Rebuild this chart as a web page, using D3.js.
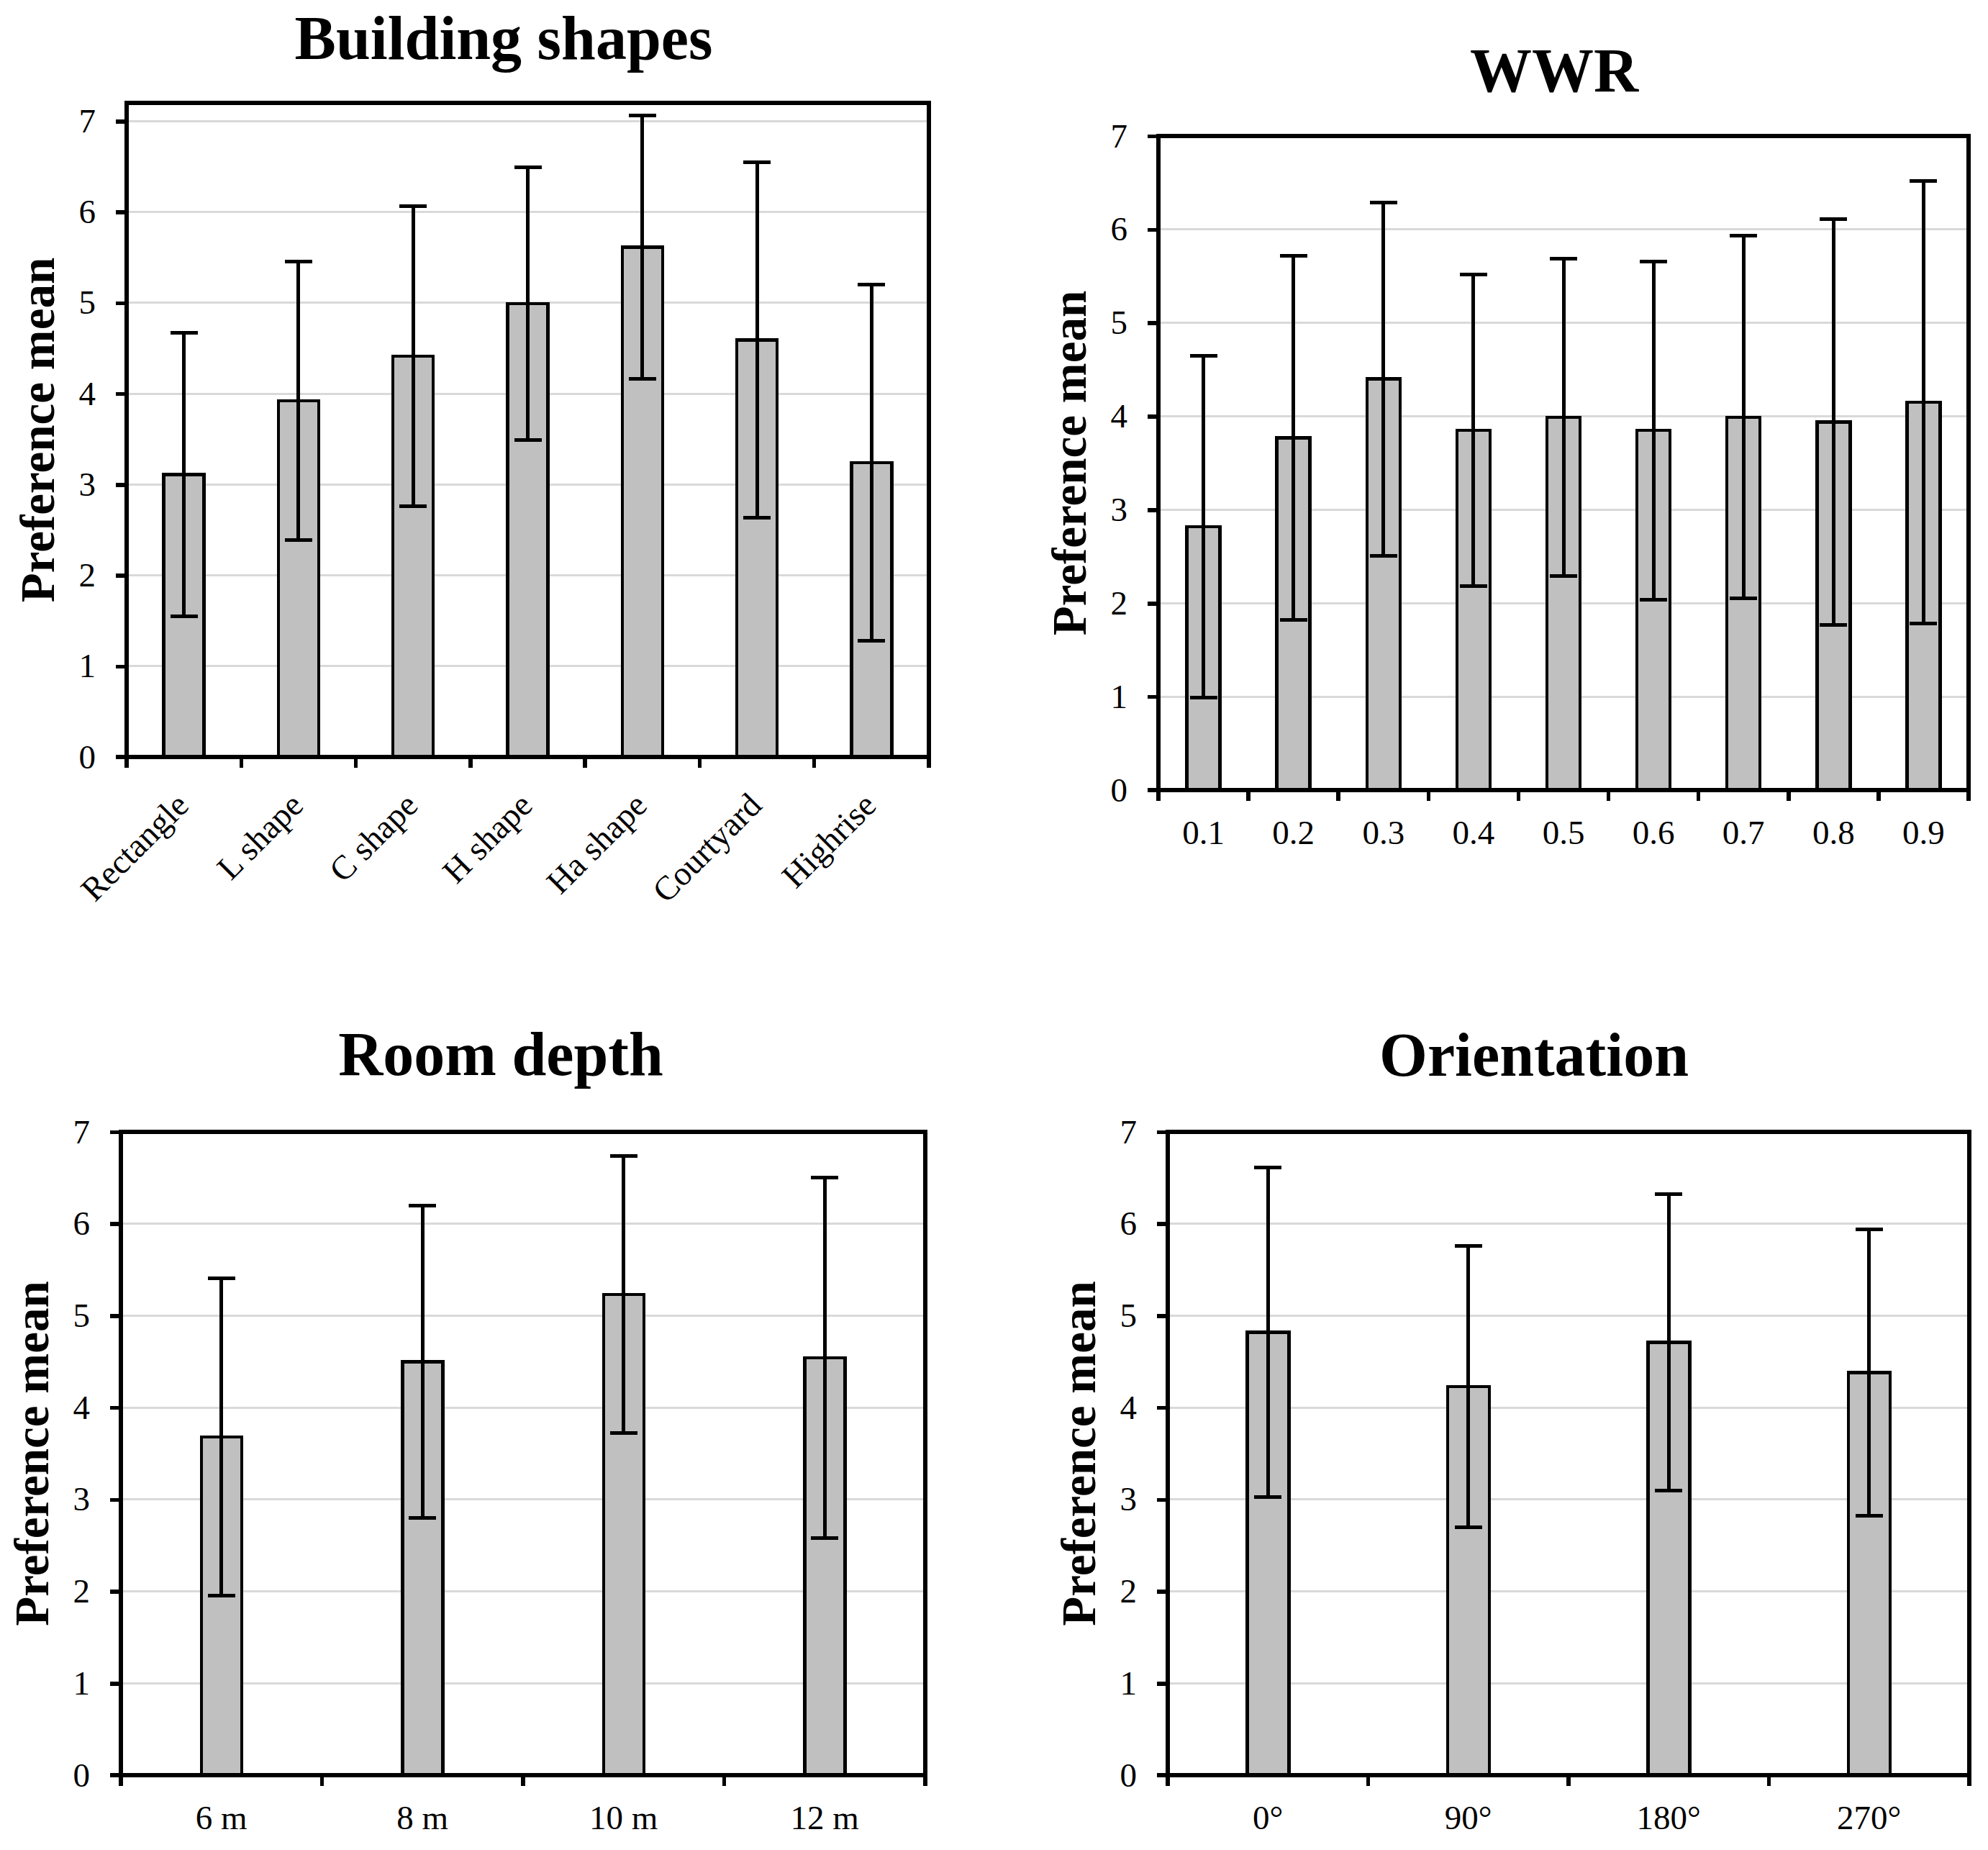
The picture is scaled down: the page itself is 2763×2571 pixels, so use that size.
<!DOCTYPE html>
<html>
<head>
<meta charset="utf-8">
<script src="https://cdn.jsdelivr.net/npm/d3@7"></script>
<style>
  html, body { margin: 0; padding: 0; background: #ffffff; }
  svg { display: block; }
  text { font-family: "Liberation Serif", "Times New Roman", Times, serif; fill: #000; }
</style>
</head>
<body>
<svg id="chart" width="2763" height="2571"></svg>
<script>
// ---------------- DATA ----------------
const yTicks = [0, 1, 2, 3, 4, 5, 6, 7];
const yTitle = "Preference mean";

const shapeTitle = "Building shapes";
const shapeCats = ["Rectangle", "L shape", "C shape", "H shape", "Ha shape", "Courtyard", "Highrise"];
const shapeMean = [3.11, 3.92, 4.41, 4.99, 5.61, 4.59, 3.24];
const shapeSD   = [1.56, 1.53, 1.65, 1.50, 1.45, 1.96, 1.96];

const wwrTitle = "WWR";
const wwrCats = ["0.1", "0.2", "0.3", "0.4", "0.5", "0.6", "0.7", "0.8", "0.9"];
const wwrMean = [2.82, 3.77, 4.40, 3.85, 3.99, 3.85, 3.99, 3.94, 4.15];
const wwrSD   = [1.83, 1.95, 1.89, 1.67, 1.70, 1.81, 1.94, 2.17, 2.37];

const depthTitle = "Room depth";
const depthCats = ["6 m", "8 m", "10 m", "12 m"];
const depthMean = [3.68, 4.50, 5.23, 4.54];
const depthSD   = [1.73, 1.70, 1.51, 1.96];

const orientTitle = "Orientation";
const orientCats = ["0°", "90°", "180°", "270°"];
const orientMean = [4.82, 4.23, 4.71, 4.38];
const orientSD   = [1.79, 1.53, 1.61, 1.56];

// ---------------- LAYOUT ----------------
const panels = [
  { title: shapeTitle, cats: shapeCats, mean: shapeMean, sd: shapeSD, yMax: 7.2,
    left: 176, right: 1291, top: 143, bottom: 1052, barW: 56, titleX: 700, titleY: 82, rotate: true },
  { title: wwrTitle, cats: wwrCats, mean: wwrMean, sd: wwrSD, yMax: 7,
    left: 1610, right: 2736, top: 189, bottom: 1098, barW: 46, titleX: 2160, titleY: 127, rotate: false },
  { title: depthTitle, cats: depthCats, mean: depthMean, sd: depthSD, yMax: 7,
    left: 168, right: 1286, top: 1573, bottom: 2467, barW: 56, titleX: 696, titleY: 1494, rotate: false },
  { title: orientTitle, cats: orientCats, mean: orientMean, sd: orientSD, yMax: 7,
    left: 1623, right: 2737, top: 1573, bottom: 2467, barW: 58, titleX: 2132, titleY: 1495, rotate: false }
];

const svg = d3.select("#chart");
svg.append("rect").attr("width", 2763).attr("height", 2571).attr("fill", "#fff");

const AXW = 5.5, BARSTROKE = 4.5, ERRW = 5, CAP = 38, TICK = 15;
const TICKFS = 47, TITLEFS = 86, YTFS = 67;

panels.forEach(p => {
  const g = svg.append("g");
  const x = d3.scaleBand().domain(p.cats).range([p.left, p.right]).padding(0);
  const y = d3.scaleLinear().domain([0, p.yMax]).range([p.bottom, p.top]);
  const data = p.cats.map((c, i) => ({ cat: c, mean: p.mean[i], sd: p.sd[i] }));

  // title
  g.append("text").attr("x", p.titleX).attr("y", p.titleY)
    .attr("text-anchor", "middle").attr("font-weight", "bold")
    .attr("font-size", TITLEFS).text(p.title);

  // y title
  const ymid = (p.top + p.bottom) / 2;
  g.append("text")
    .attr("transform", `translate(${p.left - 101},${ymid}) rotate(-90)`)
    .attr("text-anchor", "middle").attr("font-weight", "bold")
    .attr("font-size", YTFS).text(yTitle);

  // gridlines
  g.append("g").selectAll("line")
    .data(yTicks.filter(t => t > 0 && t < p.yMax))
    .join("line")
    .attr("x1", p.left).attr("x2", p.right)
    .attr("y1", d => y(d)).attr("y2", d => y(d))
    .attr("stroke", "#d9d9d9").attr("stroke-width", 3)
    .attr("shape-rendering", "crispEdges");

  // bars
  g.append("g").selectAll("rect").data(data).join("rect")
    .attr("x", d => x(d.cat) + x.bandwidth() / 2 - p.barW / 2)
    .attr("width", p.barW)
    .attr("y", d => y(d.mean))
    .attr("height", d => y(0) - y(d.mean))
    .attr("fill", "#c0c0c0").attr("stroke", "#000").attr("stroke-width", BARSTROKE)
    .attr("shape-rendering", "crispEdges");

  // error bars
  const eg = g.append("g").attr("stroke", "#000").attr("stroke-width", ERRW)
    .attr("shape-rendering", "crispEdges");
  data.forEach(d => {
    const cx = x(d.cat) + x.bandwidth() / 2;
    const hi = y(d.mean + d.sd), lo = y(d.mean - d.sd);
    eg.append("line").attr("x1", cx).attr("x2", cx).attr("y1", hi).attr("y2", lo);
    eg.append("line").attr("x1", cx - CAP / 2).attr("x2", cx + CAP / 2).attr("y1", hi).attr("y2", hi);
    eg.append("line").attr("x1", cx - CAP / 2).attr("x2", cx + CAP / 2).attr("y1", lo).attr("y2", lo);
  });

  // frame (top & right)
  g.append("path")
    .attr("d", `M${p.left},${p.top} H${p.right} V${p.bottom}`)
    .attr("fill", "none").attr("stroke", "#000").attr("stroke-width", AXW)
    .attr("stroke-linecap", "square").attr("shape-rendering", "crispEdges");

  // y axis
  const yAxis = d3.axisLeft(y).tickValues(yTicks).tickSize(TICK).tickPadding(28)
    .tickFormat(d3.format("d"));
  const ya = g.append("g").attr("transform", `translate(${p.left},0)`).call(yAxis);
  ya.select(".domain").attr("d", `M0,${p.top}V${p.bottom}`)
    .attr("stroke", "#000").attr("stroke-width", AXW).attr("stroke-linecap", "square")
    .attr("shape-rendering", "crispEdges");
  ya.selectAll(".tick line").attr("stroke", "#000").attr("stroke-width", AXW)
    .attr("shape-rendering", "crispEdges");
  ya.selectAll(".tick text").attr("font-size", TICKFS)
    .attr("font-family", "Liberation Serif, Times New Roman, serif").attr("fill", "#000");

  // x axis line and boundary ticks
  const xa = g.append("g").attr("shape-rendering", "crispEdges");
  xa.append("line").attr("x1", p.left - TICK).attr("x2", p.right)
    .attr("y1", p.bottom).attr("y2", p.bottom)
    .attr("stroke", "#000").attr("stroke-width", AXW);
  const bounds = p.cats.map(c => x(c)).concat([p.right]);
  xa.selectAll("line.xt").data(bounds).join("line").attr("class", "xt")
    .attr("x1", d => d).attr("x2", d => d)
    .attr("y1", p.bottom).attr("y2", p.bottom + TICK)
    .attr("stroke", "#000").attr("stroke-width", AXW);

  // x labels
  const xl = g.append("g").attr("font-size", TICKFS);
  if (p.rotate) {
    xl.selectAll("text").data(p.cats).join("text")
      .attr("text-anchor", "end")
      .attr("transform", d => `translate(${x(d) + x.bandwidth() / 2 + 9},${p.bottom + 70}) rotate(-45)`)
      .text(d => d);
  } else {
    xl.selectAll("text").data(p.cats).join("text")
      .attr("text-anchor", "middle")
      .attr("x", d => x(d) + x.bandwidth() / 2)
      .attr("y", p.bottom + 75)
      .text(d => d);
  }
});
</script>
</body>
</html>
